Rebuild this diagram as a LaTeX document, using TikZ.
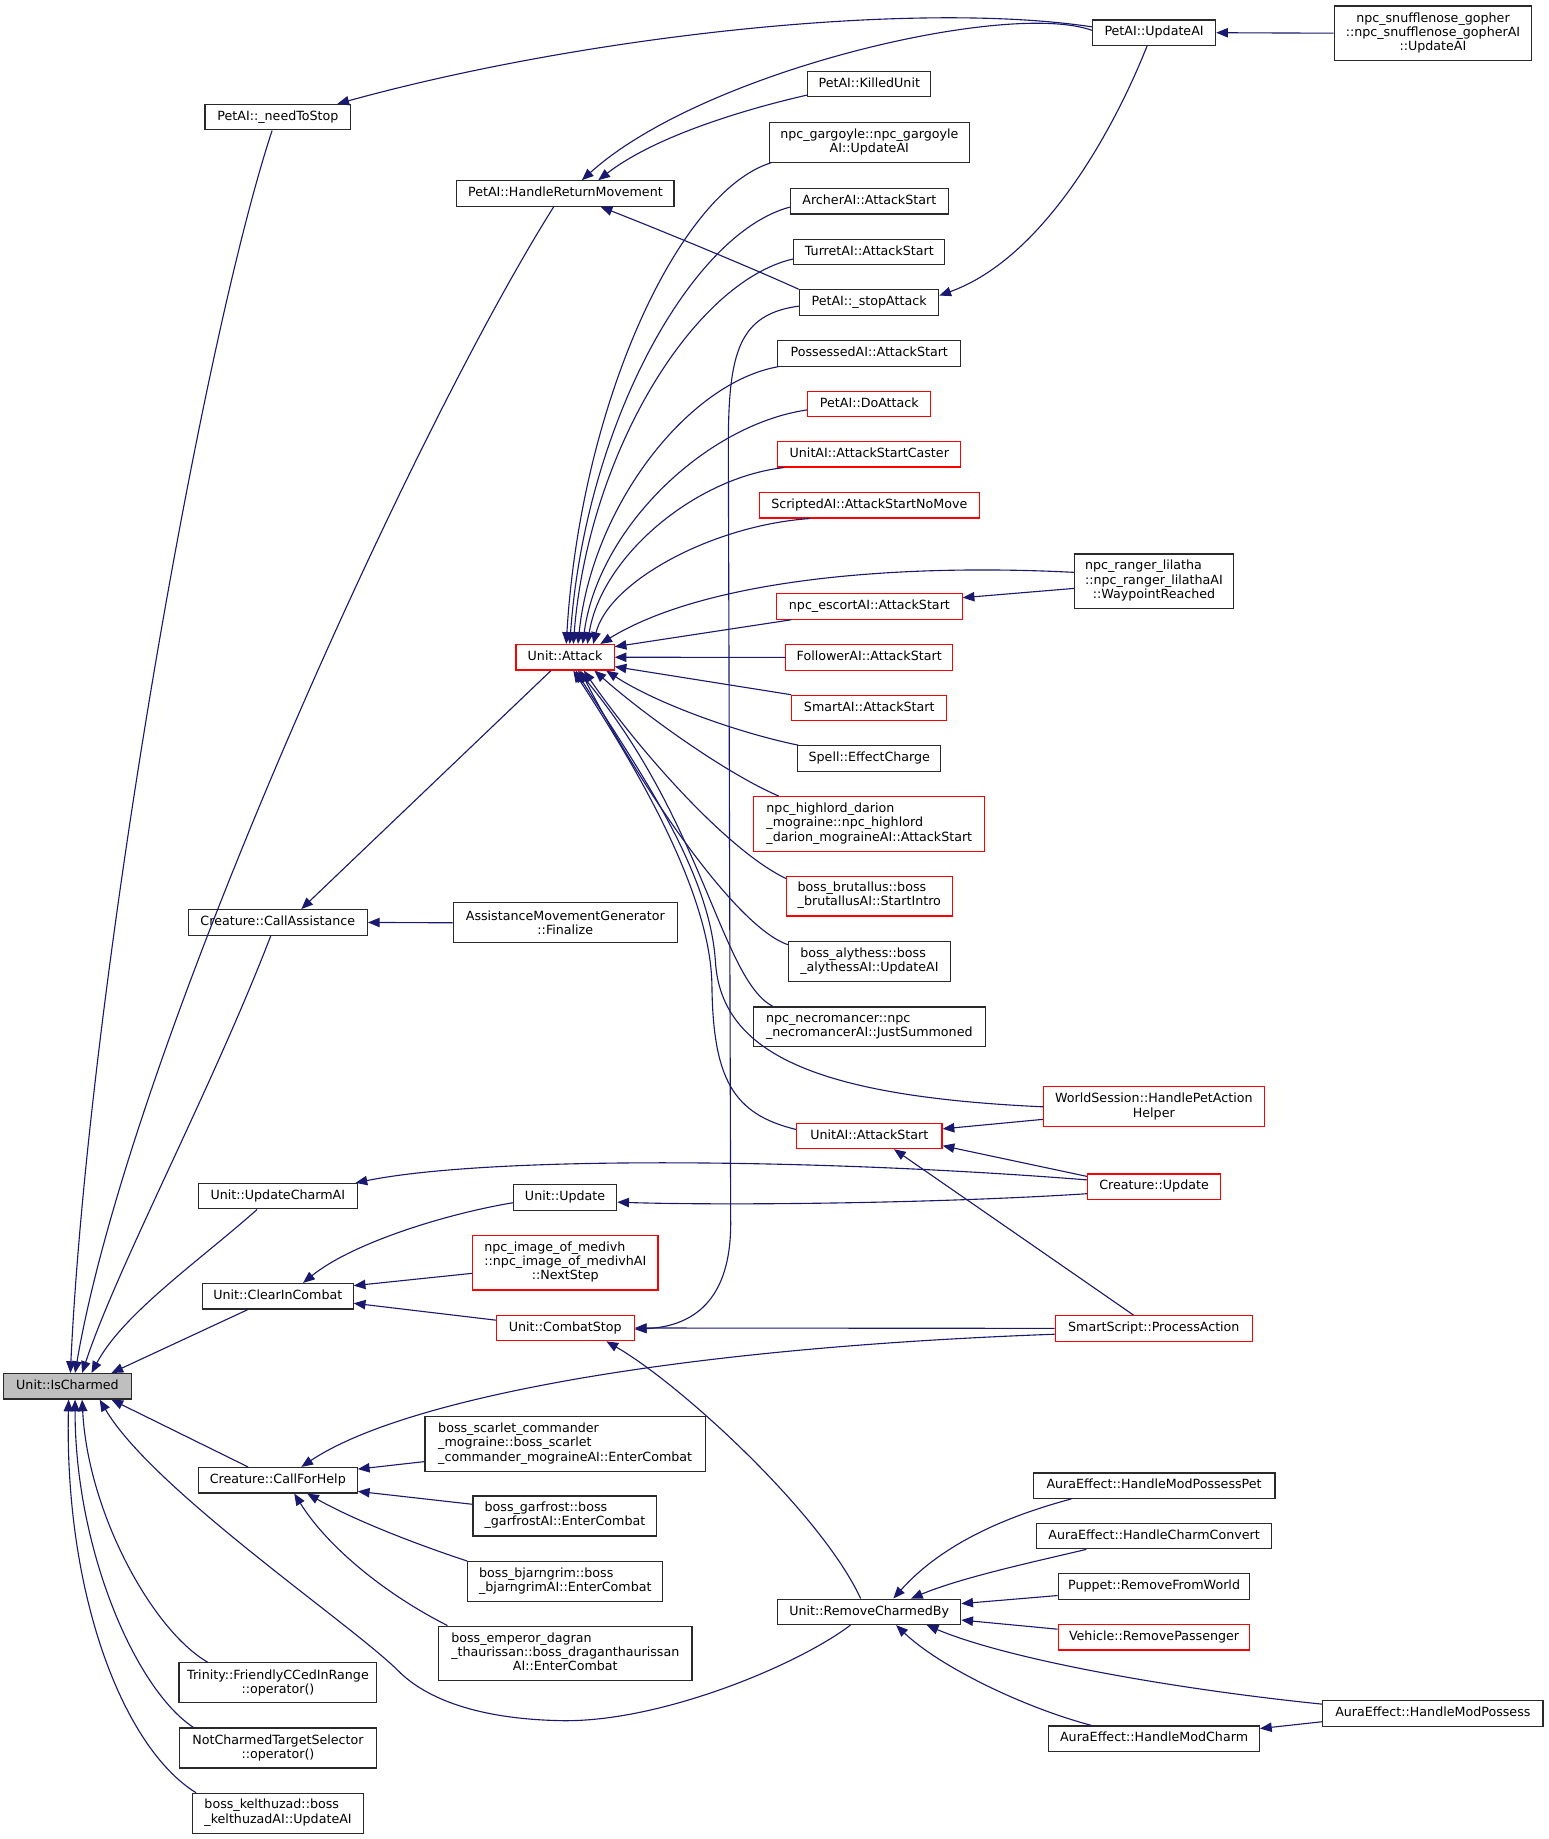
\documentclass[tikz,border=0pt]{standalone}
\usepackage{fontspec}
\setmainfont{DejaVu Sans}
\usetikzlibrary{arrows.meta}
\definecolor{edgec}{HTML}{191970}
\definecolor{boxc}{HTML}{2A2A2A}
\definecolor{rootc}{HTML}{BFBFBF}
\newcommand\fs{\fontsize{10.8}{12.1}\selectfont}
\newcommand\Ltwo[2]{\begin{tabular}{@{}l@{}}#1\\\multicolumn{1}{@{}c@{}}{#2}\end{tabular}}
\newcommand\Lthree[3]{\begin{tabular}{@{}l@{}}#1\\#2\\\multicolumn{1}{@{}c@{}}{#3}\end{tabular}}
\begin{document}
\begin{tikzpicture}[x=1pt,y=-1pt,
 nd/.style={draw=boxc, fill=white, line width=1pt, inner sep=0pt, font=\fs},
 rd/.style={nd, draw=red},
 one/.style={text height=8pt, text depth=2.6pt, minimum height=21.7pt},
 two/.style={minimum height=34pt},
 three/.style={minimum height=46.5pt},
 ctr/.style={align=center},
 edge/.style={draw=edgec, line width=0.95pt, -{Triangle[length=10pt,width=8pt]}}]
\fill[white] (0,0) rectangle (1320,1568);
\useasboundingbox (0,0) rectangle (1320,1568);
% column 1
\node[nd, fill=rootc, one, minimum width=109pt] (isch) at (57.5,1182) {Unit::IsCharmed};
% column 2
\node[nd, one, minimum width=124.3pt] (nts) at (237,99.9) {PetAI::\_needToStop};
\node[nd, one, minimum width=152.7pt] (cas) at (236.9,786.5) {Creature::CallAssistance};
\node[nd, one, minimum width=135.5pt] (uca) at (236.9,1019.9) {Unit::UpdateCharmAI};
\node[nd, one, minimum width=128.4pt] (cic) at (236.9,1105.2) {Unit::ClearInCombat};
\node[nd, one, minimum width=135.4pt] (cfh) at (236.9,1262.1) {Creature::CallForHelp};
\node[nd, two, ctr, minimum width=168.7pt] (tri) at (237,1434.7) {Trinity::FriendlyCCedInRange\\::operator()};
\node[nd, two, ctr, minimum width=167.5pt] (ncs) at (237,1490.4) {NotCharmedTargetSelector\\::operator()};
\node[nd, two, minimum width=145.8pt] (kel) at (237.1,1546) {\Ltwo{boss\_kelthuzad::boss}{\_kelthuzadAI::UpdateAI}};
% column 3
\node[nd, one, minimum width=185.2pt] (hrm) at (482.1,165) {PetAI::HandleReturnMovement};
\node[rd, one, minimum width=83.6pt] (att) at (481.8,560.4) {Unit::Attack};
\node[nd, two, ctr, minimum width=191pt] (amg) at (482,786.8) {AssistanceMovementGenerator\\::Finalize};
\node[nd, one, minimum width=88pt] (upd) at (481.8,1021) {Unit::Update};
\node[rd, three, minimum width=158.2pt] (med) at (482,1076.7) {\Lthree{npc\_image\_of\_medivh}{::npc\_image\_of\_medivhAI}{::NextStep}};
\node[rd, one, minimum width=117.5pt] (cst) at (482,1132.3) {Unit::CombatStop};
\node[nd, three, minimum width=239pt] (sca) at (481.9,1231.2) {\Lthree{boss\_scarlet\_commander}{\_mograine::boss\_scarlet}{\_commander\_mograineAI::EnterCombat}};
\node[nd, two, minimum width=156.8pt] (gar) at (481.7,1292.6) {\Ltwo{boss\_garfrost::boss}{\_garfrostAI::EnterCombat}};
\node[nd, two, minimum width=166.3pt] (bja) at (482,1348.5) {\Ltwo{boss\_bjarngrim::boss}{\_bjarngrimAI::EnterCombat}};
\node[nd, three, minimum width=216pt] (emp) at (482,1409.7) {\Lthree{boss\_emperor\_dagran}{\_thaurissan::boss\_draganthaurissan}{AI::EnterCombat}};
% column 4
\node[nd, one, minimum width=104.9pt] (kil) at (741.2,71.7) {PetAI::KilledUnit};
\node[nd, two, minimum width=170.5pt] (gar2) at (741.2,121.3) {\Ltwo{npc\_gargoyle::npc\_gargoyle}{AI::UpdateAI}};
\node[nd, one, minimum width=134.5pt] (arc) at (741.2,171.6) {ArcherAI::AttackStart};
\node[nd, one, minimum width=128.8pt] (tur) at (741.2,214.8) {TurretAI::AttackStart};
\node[nd, one, minimum width=118.8pt] (sta) at (741,258) {PetAI::\_stopAttack};
\node[nd, one, minimum width=156pt] (pos) at (741.2,301.3) {PossessedAI::AttackStart};
\node[rd, one, minimum width=104.9pt] (doa) at (741.2,344.5) {PetAI::DoAttack};
\node[rd, one, minimum width=156pt] (asc) at (741.2,387.3) {UnitAI::AttackStartCaster};
\node[rd, one, minimum width=187.9pt] (snm) at (741.2,430.8) {ScriptedAI::AttackStartNoMove};
\node[rd, one, minimum width=158pt] (esc) at (741.3,517.1) {npc\_escortAI::AttackStart};
\node[rd, one, minimum width=142.1pt] (fol) at (741.1,560.5) {FollowerAI::AttackStart};
\node[rd, one, minimum width=132.2pt] (sma) at (741.2,603.7) {SmartAI::AttackStart};
\node[nd, one, minimum width=122pt] (spe) at (741.2,646.7) {Spell::EffectCharge};
\node[rd, three, minimum width=197pt] (hig) at (741.2,702.6) {\Lthree{npc\_highlord\_darion}{\_mograine::npc\_highlord}{\_darion\_mograineAI::AttackStart}};
\node[rd, two, minimum width=141.3pt] (bru) at (741.2,764) {\Ltwo{boss\_brutallus::boss}{\_brutallusAI::StartIntro}};
\node[nd, two, minimum width=137.6pt] (aly) at (741.3,819.7) {\Ltwo{boss\_alythess::boss}{\_alythessAI::UpdateAI}};
\node[nd, two, minimum width=198.1pt] (nec) at (741.2,875.6) {\Ltwo{npc\_necromancer::npc}{\_necromancerAI::JustSummoned}};
\node[rd, one, minimum width=124pt] (uas) at (741.2,968.5) {UnitAI::AttackStart};
\node[nd, one, minimum width=156pt] (rcb) at (741.1,1374.3) {Unit::RemoveCharmedBy};
% column 5
\node[nd, one, minimum width=104.9pt] (pua) at (984,27.9) {PetAI::UpdateAI};
\node[nd, three, minimum width=135.6pt] (lil) at (983.9,495.6) {\Lthree{npc\_ranger\_lilatha}{::npc\_ranger\_lilathaAI}{::WaypointReached}};
\node[rd, two, ctr, minimum width=188.2pt] (wsh) at (983.8,943.4) {WorldSession::HandlePetAction\\Helper};
\node[rd, one, minimum width=113.7pt] (cup) at (984,1011.8) {Creature::Update};
\node[rd, one, minimum width=168.3pt] (ssp) at (983.8,1132.6) {SmartScript::ProcessAction};
\node[nd, one, minimum width=206.2pt] (mpp) at (984,1266.7) {AuraEffect::HandleModPossessPet};
\node[nd, one, minimum width=200.2pt] (hcc) at (984,1309.7) {AuraEffect::HandleCharmConvert};
\node[nd, one, minimum width=163.4pt] (pup) at (984,1352.8) {Puppet::RemoveFromWorld};
\node[rd, one, minimum width=163.4pt] (veh) at (984,1396) {Vehicle::RemovePassenger};
\node[nd, one, minimum width=179.6pt] (hmc) at (984,1482.5) {AuraEffect::HandleModCharm};
% column 6
\node[nd, three, ctr, minimum width=168.6pt] (snu) at (1221.8,28.3) {npc\_snufflenose\_gopher\\::npc\_snufflenose\_gopherAI\\::UpdateAI};
\node[nd, one, minimum width=187.8pt] (hmp) at (1221.7,1461) {AuraEffect::HandleModPossess};

% ---- edges into Unit::IsCharmed
\draw[edge] ([xshift=-5pt]nts.south) .. controls (170,300) and (75,850) .. ([xshift=2.5pt]isch.north);
\draw[edge] ([xshift=-10pt]hrm.south) .. controls (350,370) and (110,900) .. ([xshift=6.5pt]isch.north);
\draw[edge] ([xshift=-6pt]cas.south) .. controls (180,930) and (100,1080) .. ([xshift=12.5pt]isch.north);
\draw[edge] ([xshift=-17.7pt]uca.south) .. controls (170,1075) and (105,1120) .. ([xshift=20.5pt]isch.north);
\draw[edge] ([xshift=-25.5pt]cic.south) -- ([xshift=37.5pt]isch.north);
\draw[edge] ([xshift=-25.4pt]cfh.north) -- ([xshift=37.5pt]isch.south);
\draw[edge] ([xshift=-16pt]rcb.south) .. controls (680,1420) and (560,1470) .. (475,1467) .. controls (400,1465) and (360,1445) .. (340,1425) .. controls (300,1385) and (130,1270) .. ([xshift=27.5pt]isch.south);
\draw[edge] ([xshift=-60pt]tri.north) .. controls (130,1390) and (75,1290) .. ([xshift=12.5pt]isch.south);
\draw[edge] ([xshift=-72pt]ncs.north) .. controls (115,1440) and (64,1320) .. ([xshift=6.5pt]isch.south);
\draw[edge] ([xshift=-70pt]kel.north) .. controls (105,1490) and (55,1360) .. ([xshift=1pt]isch.south);
% ---- top area
\draw[edge] ([yshift=5pt]pua.west) .. controls (780,0) and (500,30) .. ([xshift=-12pt]nts.north east);
\draw[edge] ([yshift=2pt]pua.west) .. controls (860,0) and (600,60) .. ([xshift=14pt]hrm.north);
\draw[edge] ([yshift=2pt]kil.south west) .. controls (640,92) and (560,115) .. ([xshift=28pt]hrm.north);
\draw[edge] (sta.north west) .. controls (640,228) and (560,195) .. ([xshift=30pt]hrm.south);
\draw[edge] ([xshift=-6pt]pua.south) .. controls (950,110) and (890,220) .. ([yshift=6pt]sta.east);
\draw[edge] ([yshift=-3pt]sta.west) .. controls (630,268) and (621,300) .. (621,380) -- (623,1040) .. controls (624,1110) and (590,1131) .. ([yshift=-1pt]cst.east);
\draw[edge] (snu.west) -- (pua.east);
% ---- fan into Unit::Attack (top)
\draw[edge] ([xshift=2pt]gar2.south west) .. controls (579,163) and (495,344) .. ([xshift=1pt]att.north);
\draw[edge] ([yshift=-5pt]arc.west) .. controls (589,199) and (499,363) .. ([xshift=4pt]att.north);
\draw[edge] ([yshift=-6pt]tur.west) .. controls (592,240) and (502,385) .. ([xshift=7pt]att.north);
\draw[edge] ([xshift=1pt]pos.south west) .. controls (587,326) and (505,431) .. ([xshift=11pt]att.north);
\draw[edge] ([yshift=-5pt]doa.west) .. controls (602,362) and (510,450) .. ([xshift=15pt]att.north);
\draw[edge] ([xshift=6pt]asc.south west) .. controls (593,407) and (513,474) .. ([xshift=19pt]att.north);
\draw[edge] ([xshift=43.5pt]snm.south west) .. controls (607,448) and (519,496) .. ([xshift=24pt]att.north);
\draw[edge] ([yshift=7.6pt]lil.west) .. controls (760,480) and (600,495) .. ([xshift=30pt]att.north);
\draw[edge] ([yshift=-6.1pt]lil.west) -- ([yshift=7.5pt]esc.east);
\draw[edge] ([xshift=12.8pt]esc.south west) -- ([yshift=9pt]att.east);
\draw[edge] (fol.west) -- (att.east);
\draw[edge] (sma.north west) -- ([yshift=-8pt]att.east);
% ---- fan into Unit::Attack (bottom)
\draw[edge] ([xshift=1pt]spe.north west) .. controls (630,625) and (560,600) .. ([xshift=35pt]att.south);
\draw[edge] ([xshift=22pt]hig.north west) .. controls (620,660) and (550,610) .. ([xshift=25pt]att.south);
\draw[edge] ([yshift=-2.5pt]bru.north west) .. controls (620,725) and (545,640) .. ([xshift=16pt]att.south);
\draw[edge] ([yshift=-3.3pt]aly.north west) .. controls (625,790) and (540,660) .. ([xshift=13pt]att.south);
\draw[edge] ([xshift=17.3pt]nec.north west) .. controls (615,835) and (600,700) .. ([xshift=11pt]att.south);
\draw[edge] ([yshift=-0.3pt]wsh.west) .. controls (700,935) and (615,900) .. (610,820) .. controls (605,740) and (540,650) .. ([xshift=9pt]att.south);
\draw[edge] ([yshift=5.5pt]uas.west) .. controls (625,950) and (608,920) .. (607,840) .. controls (606,760) and (540,650) .. ([xshift=7pt]att.south);
\draw[edge] ([xshift=-12pt]att.south) -- ([xshift=20pt]cas.north);
\draw[edge] (amg.west) -- (cas.east);
% ---- middle / lower
\draw[edge] ([yshift=5.8pt]cup.west) .. controls (700,988) and (420,985) .. ([xshift=-2pt]uca.north east);
\draw[edge] ([yshift=-6pt]cup.west) .. controls (800,1026) and (620,1028) .. ([yshift=-4pt]upd.east);
\draw[edge] ([yshift=8.8pt]cup.west) -- ([yshift=3pt]uas.south east);
\draw[edge] ([yshift=-11pt]wsh.west) -- ([yshift=6pt]uas.east);
\draw[edge] ([xshift=-17.4pt]ssp.north) -- ([xshift=21pt]uas.south);
\draw[edge] (ssp.west) -- (cst.east);
\draw[edge] ([yshift=-5pt]ssp.west) .. controls (560,1150) and (340,1195) .. ([xshift=20pt]cfh.north);
\draw[edge] ([xshift=-7.3pt]rcb.north) .. controls (700,1290) and (580,1180) .. ([xshift=35pt]cst.south);
\draw[edge] ([yshift=-4.5pt]upd.west) .. controls (380,1035) and (300,1060) .. ([xshift=21.5pt]cic.north);
\draw[edge] ([yshift=-9pt]med.west) -- ([yshift=9pt]cic.east);
\draw[edge] ([yshift=6.7pt]cst.west) -- ([yshift=-6pt]cic.east);
\draw[edge] ([yshift=-15pt]sca.west) -- ([yshift=9.5pt]cfh.east);
\draw[edge] ([yshift=10pt]gar.west) -- ([yshift=-9.5pt]cfh.east);
\draw[edge] (bja.north west) .. controls (350,1315) and (300,1295) .. ([xshift=25pt]cfh.south);
\draw[edge] ([xshift=8pt]emp.north west) .. controls (330,1360) and (280,1320) .. ([xshift=14pt]cfh.south);
% ---- into Unit::RemoveCharmedBy
\draw[edge] ([xshift=33pt]mpp.south west) .. controls (850,1295) and (800,1320) .. ([xshift=20.6pt]rcb.north);
\draw[edge] ([xshift=42.8pt]hcc.south west) .. controls (880,1332) and (820,1345) .. ([xshift=35.6pt]rcb.north);
\draw[edge] ([yshift=-7.6pt]pup.west) -- ([yshift=7pt]rcb.east);
\draw[edge] ([yshift=6.9pt]veh.west) -- ([yshift=-7pt]rcb.east);
\draw[edge] ([yshift=8pt]hmp.west) .. controls (1000,1440) and (860,1415) .. ([xshift=49pt]rcb.south);
\draw[edge] ([xshift=37pt]hmc.north west) .. controls (870,1455) and (800,1420) .. ([xshift=23pt]rcb.south);
\draw[edge] ([yshift=-7pt]hmp.west) -- ([yshift=8.7pt]hmc.east);
\end{tikzpicture}
\end{document}
